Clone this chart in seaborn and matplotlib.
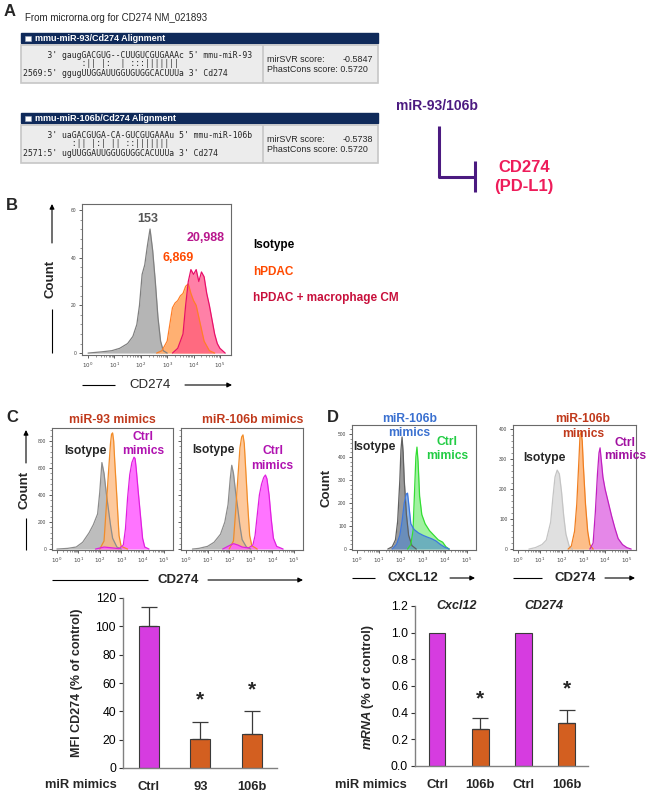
import numpy as np
import pandas as pd
import matplotlib
matplotlib.use('Agg')
import matplotlib.pyplot as plt
import seaborn as sns
from matplotlib.patches import Rectangle

sns.set_theme(style='white')
plt.rcParams['font.family'] = ['Liberation Sans', 'DejaVu Sans']

# ---- panel B histogram (log10 CD274, count)
b_iso_x = [0.0, 0.5, 0.9, 1.2, 1.5, 1.7, 1.85, 1.95, 2.05, 2.15, 2.25, 2.35, 2.45, 2.55, 2.65, 2.75, 2.85, 3.0]
b_iso_y = [0, 0.5, 1, 2, 4, 7, 12, 20, 33, 37, 45, 52, 43, 30, 15, 5, 1, 0]
b_pdac_x = [2.6, 2.8, 3.0, 3.1, 3.2, 3.3, 3.4, 3.5, 3.6, 3.7, 3.8, 3.9, 4.0, 4.1, 4.2, 4.3, 4.4, 4.6, 4.8]
b_pdac_y = [0, 1, 5, 12, 19, 21, 22, 24, 25, 28, 29, 25, 22, 20, 15, 10, 5, 1, 0]
b_cm_x = [3.2, 3.4, 3.6, 3.7, 3.8, 3.9, 4.0, 4.1, 4.2, 4.3, 4.4, 4.5, 4.6, 4.7, 4.8, 4.9, 5.0, 5.1, 5.2]
b_cm_y = [0, 2, 8, 20, 30, 35, 33, 35, 30, 34, 32, 25, 20, 14, 8, 4, 2, 1, 0]

# ---- panel C histograms (miR-93 / miR-106b mimics, CD274)
c1_iso_x = [0.0, 0.5, 0.9, 1.2, 1.5, 1.7, 1.9, 2.0, 2.1, 2.2, 2.3, 2.4, 2.5, 2.6, 2.8, 3.0]
c1_iso_y = [0, 5, 15, 50, 120, 180, 260, 420, 640, 560, 420, 300, 180, 80, 15, 0]
c1_mim_x = [2.0, 2.2, 2.3, 2.4, 2.5, 2.55, 2.6, 2.65, 2.7, 2.8, 2.9, 3.0, 3.3]
c1_mim_y = [0, 60, 300, 550, 780, 850, 860, 800, 650, 380, 100, 20, 0]
c1_ctl_x = [1.8, 2.2, 2.5, 2.8, 2.9, 3.1, 3.2, 3.3, 3.4, 3.5, 3.6, 3.65, 3.7, 3.8, 3.9, 4.0, 4.1, 4.3]
c1_ctl_y = [0, 15, 10, 5, 3, 30, 150, 380, 550, 640, 680, 670, 600, 420, 250, 80, 15, 0]

c2_iso_x = [0.3, 0.6, 1.0, 1.3, 1.6, 1.8, 1.95, 2.05, 2.12, 2.2, 2.3, 2.4, 2.5, 2.6, 2.8, 3.0]
c2_iso_y = [0, 5, 20, 50, 110, 200, 330, 520, 620, 560, 420, 300, 170, 70, 15, 0]
c2_mim_x = [2.0, 2.2, 2.3, 2.4, 2.5, 2.58, 2.64, 2.7, 2.75, 2.85, 2.95, 3.05, 3.3]
c2_mim_y = [0, 60, 280, 520, 750, 830, 845, 780, 640, 350, 100, 25, 0]
c2_ctl_x = [1.7, 2.0, 2.2, 2.4, 2.6, 2.9, 3.1, 3.2, 3.3, 3.4, 3.5, 3.6, 3.68, 3.75, 3.85, 3.95, 4.05, 4.2, 4.5]
c2_ctl_y = [0, 25, 40, 30, 15, 8, 30, 100, 250, 400, 480, 530, 548, 520, 400, 220, 80, 20, 0]

# ---- panel D histograms
d1_iso_x = [1.4, 1.6, 1.75, 1.85, 1.95, 2.0, 2.05, 2.1, 2.15, 2.25, 2.35, 2.5, 2.7]
d1_iso_y = [0, 10, 40, 120, 300, 430, 487, 420, 300, 150, 60, 15, 0]
d1_mim_x = [1.6, 1.8, 1.95, 2.05, 2.15, 2.25, 2.3, 2.35, 2.45, 2.6, 2.8, 3.0, 3.2, 3.4, 3.6, 3.8, 4.0, 4.2]
d1_mim_y = [0, 20, 60, 120, 200, 240, 243, 200, 110, 85, 70, 60, 52, 45, 35, 20, 8, 0]
d1_ctl_x = [2.3, 2.45, 2.55, 2.62, 2.68, 2.73, 2.78, 2.85, 2.95, 3.1, 3.3, 3.5, 3.7, 3.9, 4.05, 4.2]
d1_ctl_y = [0, 20, 80, 250, 400, 443, 380, 230, 150, 110, 80, 60, 40, 30, 10, 0]

d2_iso_x = [0.5, 0.8, 1.1, 1.3, 1.5, 1.6, 1.7, 1.8, 1.9, 2.0, 2.1, 2.2, 2.35, 2.5]
d2_iso_y = [0, 5, 15, 30, 90, 170, 240, 263, 250, 190, 110, 50, 10, 0]
d2_mim_x = [2.3, 2.45, 2.6, 2.7, 2.8, 2.85, 2.9, 2.95, 3.0, 3.1, 3.2, 3.3, 3.45]
d2_mim_y = [0, 10, 60, 150, 300, 380, 390, 360, 280, 150, 60, 15, 0]
d2_ctl_x = [3.3, 3.45, 3.55, 3.65, 3.72, 3.77, 3.82, 3.9, 4.0, 4.1, 4.2, 4.3, 4.45, 4.6, 4.8, 5.0, 5.2]
d2_ctl_y = [0, 20, 120, 250, 320, 337, 300, 240, 200, 170, 140, 110, 70, 35, 15, 5, 0]

# ---- bar charts
mfi_groups = ['Ctrl', '93', '106b']
mfi_vals = [100, 20.5, 24]
mfi_err = [14, 12, 16]
mrna_slots = ['Cxcl12 Ctrl', 'Cxcl12 106b', 'CD274 Ctrl', 'CD274 106b']
mrna_ticks = ['Ctrl', '106b', 'Ctrl', '106b']
mrna_vals = [1.0, 0.28, 1.0, 0.32]
mrna_err = [0.0, 0.08, 0.0, 0.10]

MAG = '#d63ce0'
ORG = '#d35f20'

W, H = 650, 791
fig = plt.figure(figsize=(6.5, 7.91), dpi=100)


def rect(x0, y0, x1, y1):
    return [x0 / W, 1 - y1 / H, (x1 - x0) / W, (y1 - y0) / H]


def hist_axes(box, curves, ylim, yticks, ylabels=True):
    ax = fig.add_axes(rect(*box))
    for xs, ys, fc, ec, a in curves:
        ax.fill_between(xs, ys, color=fc, alpha=a, lw=0)
        sns.lineplot(x=xs, y=ys, color=ec, lw=0.9, ax=ax, sort=False, estimator=None)
    ax.set_xlim(-0.23, 5.42)
    ax.set_ylim(*ylim)
    ax.set_xticks(range(6))
    ax.set_xticklabels([f'$10^{{{i}}}$' for i in range(6)], fontsize=4, color='#444444')
    ax.set_xticks([np.log10(k) + d for d in range(0, 5) for k in range(2, 10)], minor=True)
    ax.set_yticks(yticks)
    if ylabels:
        ax.set_yticklabels([str(t) for t in yticks], fontsize=3.5, color='#444444')
    else:
        ax.set_yticklabels([])
    step = (yticks[1] - yticks[0]) / 5
    ax.set_yticks(np.arange(0, ylim[1], step), minor=True)
    ax.tick_params(axis='both', which='major', direction='out', length=2.5, width=0.6,
                   bottom=True, left=True, pad=1.5, colors='#444444')
    ax.tick_params(axis='both', which='minor', direction='out', length=1.3, width=0.4,
                   bottom=True, left=True, colors='#444444')
    for s in ax.spines.values():
        s.set_color('#6a6a6a')
        s.set_linewidth(0.8)
    ax.set_xlabel('')
    ax.set_ylabel('')
    return ax


# ---- histograms
hist_axes((82, 204, 231, 355),
          [(b_iso_x, b_iso_y, '#b5b5b5', '#7f7f7f', 1.0),
           (b_pdac_x, b_pdac_y, '#ffb072', '#ff7f27', 1.0),
           (b_cm_x, b_cm_y, '#ff4f86', '#e8106a', 0.72)],
          (-0.8, 62.5), [0, 20, 40, 60])

hist_axes((52, 428, 173, 550),
          [(c1_iso_x, c1_iso_y, '#bdbdbd', '#8c8c8c', 1.0),
           (c1_mim_x, c1_mim_y, '#fdb77c', '#f28c28', 0.75),
           (c1_ctl_x, c1_ctl_y, '#ff5cff', '#e020e0', 0.85)],
          (-7, 896), [0, 200, 400, 600, 800])
hist_axes((181, 428, 303, 550),
          [(c2_iso_x, c2_iso_y, '#bdbdbd', '#8c8c8c', 1.0),
           (c2_mim_x, c2_mim_y, '#fdb77c', '#f28c28', 0.75),
           (c2_ctl_x, c2_ctl_y, '#ff5cff', '#e020e0', 0.85)],
          (-7, 896), [0, 200, 400, 600, 800], ylabels=False)

hist_axes((352, 425, 476, 550),
          [(d1_iso_x, d1_iso_y, '#9a9a9a', '#606060', 1.0),
           (d1_ctl_x, d1_ctl_y, '#88ee88', '#33dd33', 0.8),
           (d1_mim_x, d1_mim_y, '#4a86d0', '#3c78e0', 0.6)],
          (-4, 539), [0, 100, 200, 300, 400, 500])
hist_axes((513, 425, 636, 550),
          [(d2_iso_x, d2_iso_y, '#e0e0e0', '#c4c4c4', 1.0),
           (d2_mim_x, d2_mim_y, '#fdb77c', '#f07e20', 0.9),
           (d2_ctl_x, d2_ctl_y, '#e37ae6', '#c020c0', 0.9)],
          (-3, 413), [0, 100, 200, 300, 400])


# ---- bar charts
def bar_axes(box, slots, vals, errs, ticklabels, ylim, yticks, fmt, xlim):
    ax = fig.add_axes(rect(*box))
    df = pd.DataFrame({'slot': slots, 'value': vals})
    cols = [MAG if t == 'Ctrl' else ORG for t in ticklabels]
    sns.barplot(data=df, x='slot', y='value', hue='slot', palette=cols, width=0.39,
                edgecolor='#3a3a3a', linewidth=0.8, saturation=1, legend=False, ax=ax)
    pos = np.arange(len(vals))
    keep = [i for i, e in enumerate(errs) if e > 0]
    ax.errorbar(pos[keep], np.array(vals)[keep],
                yerr=[np.zeros(len(keep)), np.array(errs)[keep]],
                fmt='none', ecolor='#3a3a3a', elinewidth=0.9, capsize=6, capthick=0.9)
    ax.set_xlim(*xlim)
    ax.set_ylim(*ylim)
    ax.set_yticks(yticks)
    ax.set_yticklabels([fmt.format(t) for t in yticks], fontsize=8.8)
    ax.set_xticks(pos)
    ax.set_xticklabels(ticklabels, fontsize=9.3, fontweight='bold')
    ax.tick_params(axis='x', length=0, pad=9)
    ax.tick_params(axis='y', length=3, width=0.8, left=True, direction='out', pad=2, colors='#333333')
    ax.tick_params(axis='y', labelcolor='black')
    sns.despine(ax=ax)
    for s in ('left', 'bottom'):
        ax.spines[s].set_color('#808080')
        ax.spines[s].set_linewidth(1)
    ax.set_xlabel('')
    ax.set_ylabel('')
    return ax


axc = bar_axes((123, 598, 277, 768), mfi_groups, mfi_vals, mfi_err, mfi_groups,
               (0, 120), [0, 20, 40, 60, 80, 100, 120], '{:d}', (-0.505, 2.49))
axd = bar_axes((415, 606, 588, 766), mrna_slots, mrna_vals, mrna_err, mrna_ticks,
               (0, 1.2), [0.0, 0.2, 0.4, 0.6, 0.8, 1.0, 1.2], '{:.1f}', (-0.51, 3.49))
for i, v in [(1, 48), (2, 55)]:
    axc.text(i, v, '*', ha='center', va='center', fontsize=15, fontweight='bold')
for i, v in [(1, 0.50), (3, 0.58)]:
    axd.text(i, v, '*', ha='center', va='center', fontsize=15, fontweight='bold')

# ---- overlay for text and layout lines (pixel coordinates)
top = fig.add_axes([0, 0, 1, 1], zorder=10)
top.set_xlim(0, W)
top.set_ylim(H, 0)
top.axis('off')
top.patch.set_visible(False)


def t(x, y, s, **kw):
    kw.setdefault('ha', 'center')
    kw.setdefault('va', 'center')
    top.text(x, y, s, **kw)


def arrow(x0, y0, x1, y1, lw=0.8):
    top.annotate('', xy=(x1, y1), xytext=(x0, y0),
                 arrowprops=dict(arrowstyle='-|>', lw=lw, color='black', mutation_scale=7,
                                 shrinkA=0, shrinkB=0))


def line(xs, ys, **kw):
    kw.setdefault('color', 'black')
    kw.setdefault('lw', 0.8)
    top.plot(xs, ys, solid_capstyle='butt', **kw)


# panel letters
for lx, ly, lab in [(10, 11, 'A'), (12, 206, 'B'), (12, 418, 'C'), (333, 418, 'D')]:
    t(lx, ly, lab, fontsize=12, fontweight='bold')

# panel A: alignment boxes
t(25, 18, 'From microrna.org for CD274 NM_021893', ha='left', fontsize=7)
NAVY = '#0f2a5a'
boxes = [
    (33, 'mmu-miR-93/Cd274 Alignment',
     ["     3' gaugGACGUG--CUUGUCGUGAAAc 5' mmu-miR-93",
      "            :|| |:  | :::|||||||",
      "2569:5' ggugUUGGAUUGGUGUGGCACUUUa 3' Cd274"],
     '-0.5847'),
    (113, 'mmu-miR-106b/Cd274 Alignment',
     ["     3' uaGACGUGA-CA-GUCGUGAAAu 5' mmu-miR-106b",
      "          :|| |:| || ::|||||||",
      "2571:5' ugUUGGAUUGGUGUGGCACUUUa 3' Cd274"],
     '-0.5738'),
]
for y0, title, seq, svr in boxes:
    top.add_patch(Rectangle((21, y0), 357, 10, facecolor=NAVY, edgecolor=NAVY))
    top.add_patch(Rectangle((25, y0 + 2.5), 6, 5, facecolor='white', edgecolor='#9aa8c0', lw=0.4))
    t(35, y0 + 5.3, title, ha='left', fontsize=6.5, fontweight='bold', color='white')
    by = y0 + 12
    top.add_patch(Rectangle((21, by), 357, 38, facecolor='#ececec', edgecolor='#c6c6c6', lw=1.2))
    line([263, 263], [by, by + 38], color='#c6c6c6', lw=1.2)
    for k, s in enumerate(seq):
        t(23, by + 10 + 9 * k, s, ha='left', fontsize=5.9, family='DejaVu Sans Mono')
    t(267, by + 14, 'mirSVR score:', ha='left', fontsize=6.4)
    t(373, by + 14, svr, ha='right', fontsize=6.4)
    t(267, by + 24, 'PhastCons score: 0.5720', ha='left', fontsize=6.4)

PURP = '#4b1a80'
t(437, 106, 'miR-93/106b', fontsize=10, fontweight='bold', color=PURP)
line([439, 439, 475], [126, 177, 177], color=PURP, lw=2.2)
line([475, 475], [161, 192], color=PURP, lw=2.2)
t(524, 168, 'CD274', fontsize=12, fontweight='bold', color='#ee1c5a')
t(524, 187, '(PD-L1)', fontsize=12, fontweight='bold', color='#ee1c5a')

# panel B labels
t(148, 219, '153', fontsize=9, fontweight='bold', color='#555555')
t(178, 258, '6,869', fontsize=9, fontweight='bold', color='#ff4a00')
t(206, 238, '20,988', fontsize=9, fontweight='bold', color='#b8168c')
t(253, 245, 'Isotype', ha='left', fontsize=8.5, fontweight='bold', color='black')
t(253, 272, 'hPDAC', ha='left', fontsize=8.5, fontweight='bold', color='#ff4a00')
t(253, 298, 'hPDAC + macrophage CM', ha='left', fontsize=8.5, fontweight='bold', color='#c8103c')
t(50, 279, 'Count', rotation=90, fontsize=9.5, fontweight='bold')
arrow(52, 243, 52, 204)
line([52, 52], [309, 353])
t(150, 385, 'CD274', fontsize=9.5)
line([82, 115], [385, 385])
arrow(185, 385, 232, 385)

# panel C labels
RED = '#c0391b'
t(112, 420, 'miR-93 mimics', fontsize=8.8, fontweight='bold', color=RED)
t(253, 420, 'miR-106b mimics', fontsize=8.8, fontweight='bold', color=RED)
t(85, 451, 'Isotype', fontsize=8.7, fontweight='bold')
t(143, 437, 'Ctrl', fontsize=8.7, fontweight='bold', color='#b012b0')
t(143, 451, 'mimics', fontsize=8.7, fontweight='bold', color='#b012b0')
t(213, 450, 'Isotype', fontsize=8.7, fontweight='bold')
t(273, 451, 'Ctrl', fontsize=8.7, fontweight='bold', color='#b012b0')
t(272, 466, 'mimics', fontsize=8.7, fontweight='bold', color='#b012b0')
t(25, 490, 'Count', rotation=90, fontsize=9.5, fontweight='bold')
arrow(26, 463, 26, 430)
line([26, 26], [518, 550])
t(178, 580, 'CD274', fontsize=9.5, fontweight='bold')
line([52, 148], [580, 580])
arrow(208, 580, 303, 580)

# panel D labels
t(410, 419, 'miR-106b', fontsize=8.7, fontweight='bold', color='#3a70d0')
t(409, 433, 'mimics', fontsize=8.7, fontweight='bold', color='#3a70d0')
t(374, 447, 'Isotype', fontsize=8.7, fontweight='bold')
t(447, 442, 'Ctrl', fontsize=8.7, fontweight='bold', color='#22cc44')
t(447, 456, 'mimics', fontsize=8.7, fontweight='bold', color='#22cc44')
t(583, 419, 'miR-106b', fontsize=8.7, fontweight='bold', color=RED)
t(583, 434, 'mimics', fontsize=8.7, fontweight='bold', color=RED)
t(544, 458, 'Isotype', fontsize=8.7, fontweight='bold')
t(625, 443, 'Ctrl', fontsize=8.7, fontweight='bold', color='#a010a0')
t(625, 456, 'mimics', fontsize=8.7, fontweight='bold', color='#a010a0')
t(327, 488, 'Count', rotation=90, fontsize=9.5, fontweight='bold')
t(413, 578, 'CXCL12', fontsize=9.5, fontweight='bold')
line([352, 375], [578, 578])
arrow(450, 578, 475, 578)
t(575, 578, 'CD274', fontsize=9.5, fontweight='bold')
line([513, 542], [578, 578])
arrow(605, 578, 635, 578)

# bar chart labels
t(77, 683, 'MFI CD274 (% of control)', rotation=90, fontsize=9, fontweight='bold')
t(81, 785, 'miR mimics', fontsize=9.3, fontweight='bold')
t(368, 729, 'mRNA', rotation=90, fontsize=9.3, fontweight='bold', style='italic')
t(368, 667, '(% of control)', rotation=90, fontsize=9.3, fontweight='bold')
t(371, 785, 'miR mimics', fontsize=9.3, fontweight='bold')
t(457, 606, 'Cxcl12', fontsize=9, fontweight='bold', style='italic')
t(544, 606, 'CD274', fontsize=9, fontweight='bold', style='italic')

fig.savefig('out.png', dpi=100)
